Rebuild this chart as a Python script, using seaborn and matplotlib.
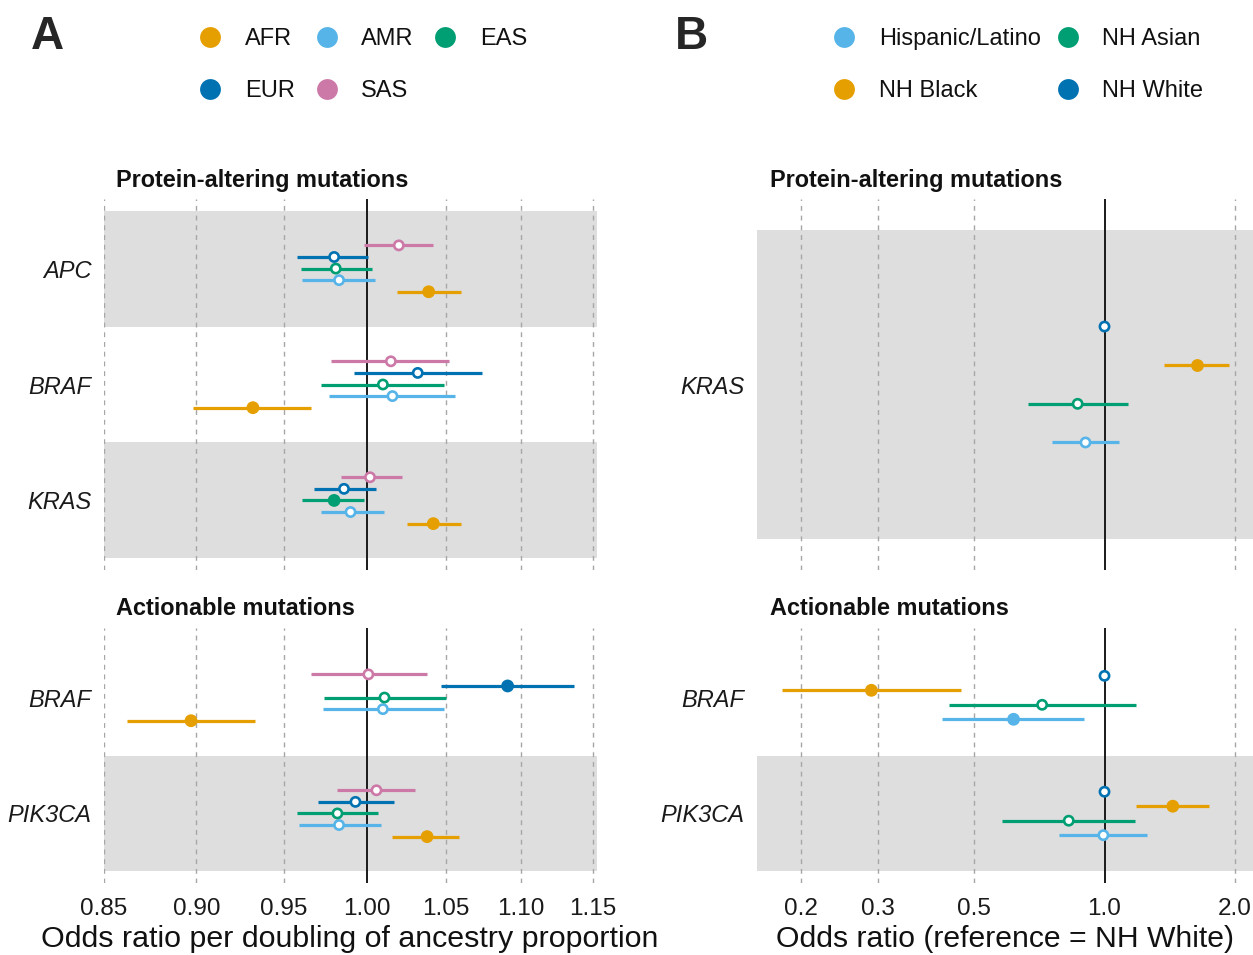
import numpy as np
import pandas as pd
import matplotlib
matplotlib.use("Agg")
import matplotlib.pyplot as plt
import seaborn as sns
from matplotlib.lines import Line2D
from matplotlib.ticker import FixedLocator, FixedFormatter, NullLocator

sns.set_theme(style="white")
plt.rcParams['font.family'] = ['Liberation Sans', 'DejaVu Sans']

# ---------------- Panel A data (ancestry, OR per doubling) ----------------
anc_groups = ["AFR", "AMR", "EAS", "EUR", "SAS"]
anc_colors = ["#E69F00", "#56B4E9", "#009E73", "#0072B2", "#CC79A7"]
anc_offsets = [-0.2, -0.1, 0.0, 0.1, 0.2]

a_top_genes = ["APC", "BRAF", "KRAS"]
a_top_gene = ["APC"] * 5 + ["BRAF"] * 5 + ["KRAS"] * 5
a_top_grp = anc_groups * 3
a_top_or = [1.039, 0.983, 0.981, 0.980, 1.020,
            0.932, 1.016, 1.010, 1.032, 1.015,
            1.042, 0.990, 0.980, 0.986, 1.002]
a_top_lo = [1.019, 0.961, 0.960, 0.958, 0.998,
            0.898, 0.977, 0.972, 0.992, 0.978,
            1.025, 0.972, 0.961, 0.968, 0.984]
a_top_hi = [1.060, 1.005, 1.003, 1.001, 1.042,
            0.966, 1.056, 1.049, 1.074, 1.052,
            1.060, 1.011, 0.998, 1.006, 1.022]
a_top_sig = [True, False, False, False, False,
             True, False, False, False, False,
             True, False, True, False, False]

a_bot_genes = ["BRAF", "PIK3CA"]
a_bot_gene = ["BRAF"] * 5 + ["PIK3CA"] * 5
a_bot_grp = anc_groups * 2
a_bot_or = [0.897, 1.010, 1.011, 1.091, 1.001,
            1.038, 0.983, 0.982, 0.993, 1.006]
a_bot_lo = [0.862, 0.973, 0.974, 1.047, 0.966,
            1.016, 0.959, 0.958, 0.970, 0.982]
a_bot_hi = [0.933, 1.049, 1.050, 1.137, 1.038,
            1.059, 1.009, 1.007, 1.017, 1.030]
a_bot_sig = [True, False, False, True, False,
             True, False, False, False, False]

a_ticks = [0.85, 0.90, 0.95, 1.00, 1.05, 1.10, 1.15]
a_ticklabels = ["0.85", "0.90", "0.95", "1.00", "1.05", "1.10", "1.15"]

# ---------------- Panel B data (race/ethnicity, OR vs NH White) ----------------
eth_groups = ["Hispanic/Latino", "NH Asian", "NH Black", "NH White"]
eth_colors = ["#56B4E9", "#009E73", "#E69F00", "#0072B2"]
eth_offsets = [-0.1875, -0.0625, 0.0625, 0.1875]

b_top_genes = ["KRAS"]
b_top_gene = ["KRAS"] * 4
b_top_grp = eth_groups
b_top_or = [0.904, 0.867, 1.630, 1.0]
b_top_lo = [0.758, 0.665, 1.375, np.nan]
b_top_hi = [1.080, 1.130, 1.935, np.nan]
b_top_sig = [False, False, True, False]

b_bot_genes = ["BRAF", "PIK3CA"]
b_bot_gene = ["BRAF"] * 4 + ["PIK3CA"] * 4
b_bot_grp = eth_groups * 2
b_bot_or = [0.617, 0.718, 0.290, 1.0,
            0.994, 0.827, 1.437, 1.0]
b_bot_lo = [0.423, 0.438, 0.180, np.nan,
            0.787, 0.579, 1.180, np.nan]
b_bot_hi = [0.896, 1.180, 0.466, np.nan,
            1.250, 1.175, 1.745, np.nan]
b_bot_sig = [True, False, True, False,
             False, False, True, False]

b_ticks = [0.2, 0.3, 0.5, 1.0, 2.0]
b_ticklabels = ["0.2", "0.3", "0.5", "1.0", "2.0"]

# ---------------- figure ----------------
W, H = 1253, 955
fig = plt.figure(figsize=(W / 100, H / 100), dpi=100)


def fx(px):
    return px / W


def fy(py):
    return 1 - py / H


def make_ax(x0, x1, y0, y1):
    return fig.add_axes([fx(x0), fy(y1), fx(x1) - fx(x0), (y1 - y0) / H])


BAND = "#DEDEDE"
GRID = "#A6A6A6"


def draw_panel(ax, genes, gene, grp, orv, lo, hi, sig, groups, colors, offsets,
               xlim, ticks, ticklabels, show_x):
    pal = dict(zip(groups, colors))
    off = dict(zip(groups, offsets))
    n = len(genes)
    ypos = {g: n - i for i, g in enumerate(genes)}
    df = pd.DataFrame({"gene": gene, "grp": grp, "or": orv, "lo": lo, "hi": hi, "sig": sig})
    df["y"] = [ypos[g] + off[k] for g, k in zip(df["gene"], df["grp"])]

    ax.set_xscale("log")
    ax.set_xlim(*xlim)
    ax.set_ylim(0.4, n + 0.6)
    for yy in range(1, n + 1):
        if yy % 2 == 1:
            ax.axhspan(yy - 0.5, yy + 0.5, color=BAND, lw=0, zorder=0)
    for t in ticks:
        if t != 1.0:
            ax.axvline(t, color=GRID, lw=1.0, ls=(0, (3.5, 3.5)), zorder=1)
    ax.axvline(1.0, color="#1a1a1a", lw=1.4, zorder=2)

    ci = df.dropna(subset=["lo", "hi"])
    ax.hlines(ci["y"], ci["lo"], ci["hi"], colors=[pal[k] for k in ci["grp"]],
              lw=2.3, zorder=3)

    filled = df[df["sig"]]
    if len(filled):
        sns.scatterplot(data=filled, x="or", y="y", hue="grp", palette=pal,
                        hue_order=groups, s=85, linewidth=0, legend=False,
                        ax=ax, zorder=4)
    opened = df[~df["sig"]]
    if len(opened):
        sns.scatterplot(data=opened, x="or", y="y", hue="grp", palette=pal,
                        hue_order=groups, s=44, linewidth=1.9, legend=False,
                        ax=ax, zorder=5)
        coll = ax.collections[-1]
        fc = coll.get_facecolors().copy()
        coll.set_edgecolors(fc)
        coll.set_facecolors("white")

    ax.xaxis.set_major_locator(FixedLocator(ticks))
    ax.xaxis.set_major_formatter(FixedFormatter(ticklabels))
    ax.xaxis.set_minor_locator(NullLocator())
    ax.set_yticks([ypos[g] for g in genes])
    ax.set_yticklabels(genes, fontstyle="italic", fontsize=17, color="#1a1a1a")
    ax.tick_params(axis="y", length=0, pad=9)
    ax.tick_params(axis="x", length=0, pad=11, labelsize=17.5, labelcolor="#1a1a1a")
    if not show_x:
        ax.tick_params(axis="x", labelbottom=False)
    ax.set_xlabel("")
    ax.set_ylabel("")
    for s in ax.spines.values():
        s.set_visible(False)
    ax.set_facecolor("none")
    ax.grid(False)


A_X = (104, 597)
B_X = (757, 1253)
TOP_Y = (199, 570)
BOT_Y = (628, 883)
A_XLIM = (0.850, 1.153)
B_XLIM = (0.158, 2.20)

ax_a1 = make_ax(A_X[0], A_X[1], *TOP_Y)
draw_panel(ax_a1, a_top_genes, a_top_gene, a_top_grp, a_top_or, a_top_lo, a_top_hi,
           a_top_sig, anc_groups, anc_colors, anc_offsets, A_XLIM, a_ticks, a_ticklabels, False)
ax_a2 = make_ax(A_X[0], A_X[1], *BOT_Y)
draw_panel(ax_a2, a_bot_genes, a_bot_gene, a_bot_grp, a_bot_or, a_bot_lo, a_bot_hi,
           a_bot_sig, anc_groups, anc_colors, anc_offsets, A_XLIM, a_ticks, a_ticklabels, True)
ax_b1 = make_ax(B_X[0], B_X[1], *TOP_Y)
draw_panel(ax_b1, b_top_genes, b_top_gene, b_top_grp, b_top_or, b_top_lo, b_top_hi,
           b_top_sig, eth_groups, eth_colors, eth_offsets, B_XLIM, b_ticks, b_ticklabels, False)
ax_b2 = make_ax(B_X[0], B_X[1], *BOT_Y)
draw_panel(ax_b2, b_bot_genes, b_bot_gene, b_bot_grp, b_bot_or, b_bot_lo, b_bot_hi,
           b_bot_sig, eth_groups, eth_colors, eth_offsets, B_XLIM, b_ticks, b_ticklabels, True)

# strip titles
for x0 in (116, 770):
    fig.text(fx(x0), fy(187), "Protein-altering mutations", fontsize=16.9,
             fontweight="bold", ha="left", va="baseline", color="#111111")
    fig.text(fx(x0), fy(615), "Actionable mutations", fontsize=16.9,
             fontweight="bold", ha="left", va="baseline", color="#111111")

# axis titles
fig.text(fx(350), fy(947), "Odds ratio per doubling of ancestry proportion",
         fontsize=21.9, ha="center", va="baseline", color="#111111")
fig.text(fx(1005), fy(947), "Odds ratio (reference = NH White)",
         fontsize=21.7, ha="center", va="baseline", color="#111111")

# panel tags
fig.text(fx(31), fy(49), "A", fontsize=33, fontweight="bold", ha="left", va="baseline")
fig.text(fx(675), fy(49), "B", fontsize=33, fontweight="bold", ha="left", va="baseline")

# legends
def legend_item(mx, my, tx, label, color):
    fig.add_artist(Line2D([fx(mx)], [fy(my)], marker="o", markersize=15,
                          color=color, markeredgewidth=0, linestyle="none",
                          transform=fig.transFigure))
    fig.text(fx(tx), fy(my + 8.3), label, fontsize=17, ha="left", va="baseline",
             color="#111111")

pa = dict(zip(anc_groups, anc_colors))
legend_item(210, 37, 245, "AFR", pa["AFR"])
legend_item(327, 37, 361, "AMR", pa["AMR"])
legend_item(445, 37, 480, "EAS", pa["EAS"])
legend_item(210, 89, 245, "EUR", pa["EUR"])
legend_item(327, 89, 361, "SAS", pa["SAS"])

pb = dict(zip(eth_groups, eth_colors))
legend_item(844, 37, 879, "Hispanic/Latino", pb["Hispanic/Latino"])
legend_item(1068, 37, 1102, "NH Asian", pb["NH Asian"])
legend_item(844, 89, 879, "NH Black", pb["NH Black"])
legend_item(1068, 89, 1102, "NH White", pb["NH White"])

fig.savefig("out.png", dpi=100)
